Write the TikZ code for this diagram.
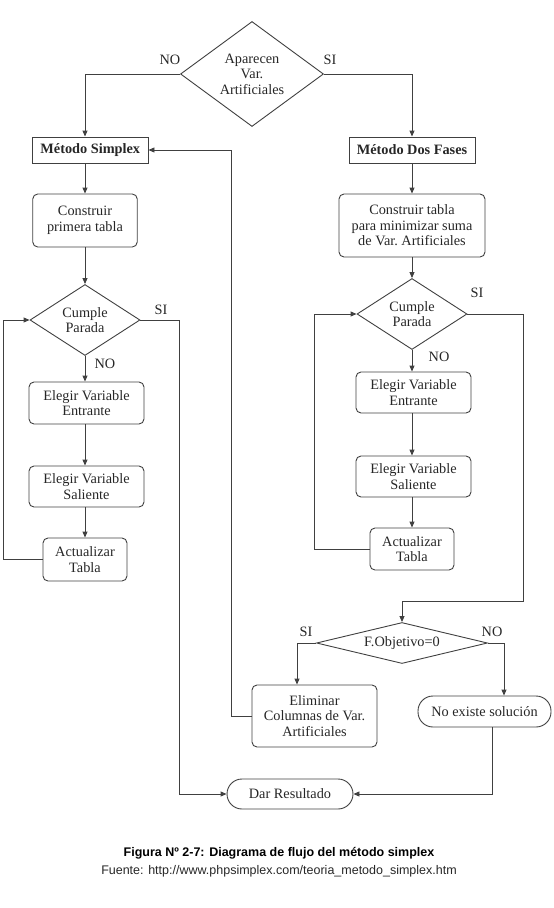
\documentclass[tikz,border=0pt]{standalone}
\usepackage{fontspec}
\setmainfont{Liberation Serif}
\newfontfamily\capfont{Liberation Sans}
\usetikzlibrary{shapes.geometric,arrows.meta}
\tikzset{
  x=1pt, y=-1pt,
  every node/.style={font=\fontsize{14.3}{15.5}\selectfont, text=black!85},
  ln/.style={draw=black!75, line width=0.9pt},
  arr/.style={ln, -{Triangle[length=6pt,width=5pt]}},
  boxb/.style={ln, rectangle, inner sep=0pt, align=center},
  rbox/.style={ln, rectangle, rounded corners=5pt, inner sep=0pt, align=center},
  pill/.style={ln, rectangle, rounded corners=15pt, inner sep=0pt, align=center},
  dia/.style={ln, diamond, inner sep=0pt, align=center},
  lbl/.style={inner sep=0pt},
}
\begin{document}
\begin{tikzpicture}
\useasboundingbox (0,0) rectangle (554,908);
% column helper coordinates
\coordinate (lc) at (85,0);
\coordinate (xloopl) at (3,0);
\coordinate (xsil) at (179,0);
\coordinate (xret) at (231,0);
\coordinate (xloopr) at (314,0);
\coordinate (jn) at (523,601);
\coordinate (xsif) at (297,0);
\coordinate (xnof) at (504,0);
\coordinate (xb) at (492,0);

% nodes
\node[dia, shape aspect=1.36, minimum width=143pt, minimum height=105pt] (d0) at (252,74) {Aparecen\\Var.\\Artificiales};
\node[boxb, minimum width=115.5pt, minimum height=26pt, font=\fontsize{14.3}{15.5}\selectfont\bfseries] (ms) at (90.25,150) {Método Simplex};
\node[boxb, minimum width=126pt, minimum height=26pt, font=\fontsize{14.3}{15.5}\selectfont\bfseries] (mdf) at (412,150) {Método Dos Fases};
\node[rbox, minimum width=104.5pt, minimum height=53pt] (c1) at (85,220.5) {Construir\\primera tabla};
\node[rbox, minimum width=146pt, minimum height=63pt] (c2) at (412,225.5) {Construir tabla\\para minimizar suma\\de Var.\ Artificiales};

\node[dia, shape aspect=1.55, minimum width=110pt, minimum height=71pt] (p1) at (85,320) {Cumple\\Parada};
\node[rbox, minimum width=115pt, minimum height=42pt] (e1) at (86.5,403) {Elegir Variable\\Entrante};
\node[rbox, minimum width=115pt, minimum height=41pt] (s1) at (86.5,486.5) {Elegir Variable\\Saliente};
\node[rbox, minimum width=84pt, minimum height=43pt] (a1) at (85,559.5) {Actualizar\\Tabla};

\node[dia, shape aspect=1.55, minimum width=110pt, minimum height=71pt] (p2) at (412,314) {Cumple\\Parada};
\node[rbox, minimum width=115pt, minimum height=41pt] (e2) at (413.5,392.5) {Elegir Variable\\Entrante};
\node[rbox, minimum width=115pt, minimum height=41pt] (s2) at (413.5,476.5) {Elegir Variable\\Saliente};
\node[rbox, minimum width=84pt, minimum height=42pt] (a2) at (412,549) {Actualizar\\Tabla};

\node[dia, shape aspect=4.17, minimum width=171pt, minimum height=41pt] (f) at (402,643) {F.Objetivo=0};
\node[rbox, minimum width=125pt, minimum height=62pt] (el) at (314.5,716) {Eliminar\\Columnas de Var.\\Artificiales};
\node[pill, minimum width=133pt, minimum height=31pt] (nx) at (484.5,711.5) {No existe solución};
\node[pill, minimum width=126pt, minimum height=30pt] (dr) at (290,794) {Dar Resultado};

% labels
\node[lbl] (lno0) at (170,60) {NO};
\node[lbl] (lsi0) at (330,60) {SI};
\node[lbl] (lsi1) at (161,310) {SI};
\node[lbl] (lno1) at (105,364) {NO};
\node[lbl] (lsi2) at (477,293) {SI};
\node[lbl] (lno2) at (439,357) {NO};
\node[lbl] (lsi3) at (306,632) {SI};
\node[lbl] (lno3) at (492,632) {NO};

% connectors
\draw[arr] (d0.west) -| (ms.north -| lc);
\draw[arr] (d0.east) -| (mdf.north);
\draw[arr] (ms.south -| lc) -- (c1.north);
\draw[arr] (c1.south) -- (p1.north);
\draw[arr] (p1.south) -- (e1.north -| lc);
\draw[arr] (e1.south -| lc) -- (s1.north -| lc);
\draw[arr] (s1.south -| lc) -- (a1.north);
\draw[arr] (a1.west) -- (a1.west -| xloopl) |- (p1.west);
\draw[arr] (p1.east) -- (p1.east -| xsil) |- (dr.west);

\draw[arr] (mdf.south) -- (c2.north);
\draw[arr] (c2.south) -- (p2.north);
\draw[arr] (p2.south) -- (e2.north -| p2.south);
\draw[arr] (e2.south -| p2.south) -- (s2.north -| p2.south);
\draw[arr] (s2.south -| p2.south) -- (a2.north);
\draw[arr] (a2.west) -- (a2.west -| xloopr) |- (p2.west);
\draw[arr] (p2.east) -| (jn) -| (f.north);

\draw[arr] (f.west) -| (el.north -| xsif);
\draw[arr] (f.east) -| (nx.north -| xnof);
\draw[arr] (el.west) -- (el.west -| xret) |- (ms.east);
\draw[arr] (nx.south -| xb) |- (dr.east);

% caption
\node[inner sep=0pt, font=\capfont\fontsize{12.5}{14}\selectfont\bfseries, text=black] (cap1) at (279,853) {Figura Nº 2-7: Diagrama de flujo del método simplex};
\node[inner sep=0pt, font=\capfont\fontsize{12.5}{14}\selectfont, text=black!85] (cap2) at (279,871) {Fuente: http://www.phpsimplex.com/teoria\_metodo\_simplex.htm};
\end{tikzpicture}
\end{document}
